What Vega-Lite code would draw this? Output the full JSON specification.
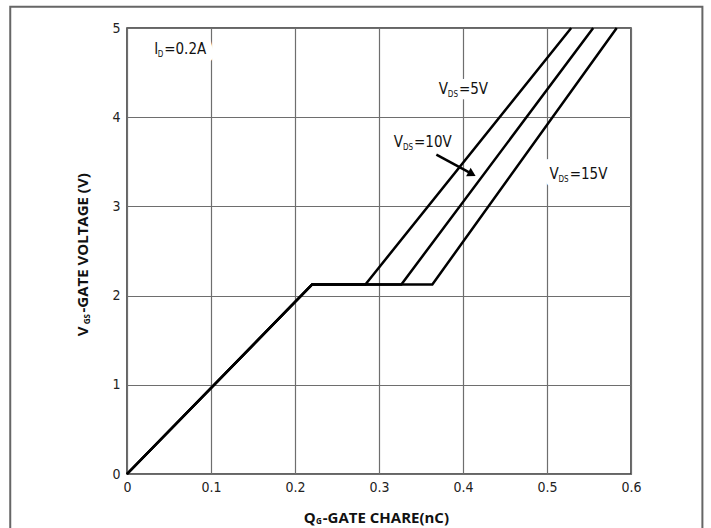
{
  "$schema": "https://vega.github.io/schema/vega-lite/v6.json",
  "width": 504,
  "height": 446,
  "autosize": {"type": "none"},
  "padding": {"left": 127, "top": 28, "right": 80, "bottom": 54},
  "background": "white",
  "config": {
    "view": {"stroke": "#333333", "strokeWidth": 1.5},
    "font": "DejaVu Sans Condensed, Liberation Sans Narrow, Liberation Sans, sans-serif",
    "axis": {
      "grid": true,
      "gridColor": "#6e6e6e",
      "gridWidth": 1.2,
      "gridOpacity": 1,
      "domain": false,
      "ticks": false,
      "labelFont": "DejaVu Sans Condensed, Liberation Sans Narrow, Liberation Sans, sans-serif",
      "labelFontSize": 14,
      "labelColor": "#222222",
      "labelFlush": false,
      "title": null
    }
  },
  "datasets": {
    "curves": [
      {"q": 0, "v": 0, "series": "5V"},
      {"q": 0.2204, "v": 2.125, "series": "5V"},
      {"q": 0.2838, "v": 2.125, "series": "5V"},
      {"q": 0.5288, "v": 5, "series": "5V"},
      {"q": 0, "v": 0, "series": "10V"},
      {"q": 0.2204, "v": 2.125, "series": "10V"},
      {"q": 0.3266, "v": 2.125, "series": "10V"},
      {"q": 0.555, "v": 5, "series": "10V"},
      {"q": 0, "v": 0, "series": "15V"},
      {"q": 0.2204, "v": 2.125, "series": "15V"},
      {"q": 0.3635, "v": 2.125, "series": "15V"},
      {"q": 0.583, "v": 5, "series": "15V"}
    ],
    "labels": [
      {"q": 0.0443, "v": 4.714, "lead": "I", "sub": "D", "main": "=0.2A", "kind": "one"},
      {"q": 0.3952, "v": 4.257, "lead": "V", "sub": "DS", "main": "=5V", "kind": "two"},
      {"q": 0.3417, "v": 3.666, "lead": "V", "sub": "DS", "main": "=10V", "kind": "two"},
      {"q": 0.527, "v": 3.311, "lead": "V", "sub": "DS", "main": "=15V", "kind": "two"}
    ],
    "arrow": [
      {"q": 0.3683, "v": 3.58, "q2": 0.409, "v2": 3.372, "hq": 0.4107, "hv": 3.364}
    ],
    "frame": [
      {"q": -0.139, "v": 5.238, "q2": 0.685, "v2": -0.69}
    ],
    "ytitle": [
      {"q": -0.0464, "v": 1.81, "lead": "V", "sub": "GS", "main": "-GATE VOLTAGE (V)"}
    ],
    "xtitle": [
      {"q": 0.233, "v": -0.5466, "lead": "Q", "sub": "G", "main": "-GATE CHARE(nC)"}
    ]
  },
  "layer": [
    {
      "data": {"name": "frame"},
      "mark": {"type": "rect", "fill": "white", "fillOpacity": 0, "stroke": "#666666", "strokeWidth": 2},
      "encoding": {
        "x": {"field": "q", "type": "quantitative"},
        "x2": {"field": "q2"},
        "y": {"field": "v", "type": "quantitative"},
        "y2": {"field": "v2"}
      }
    },
    {
      "data": {"name": "labels"},
      "mark": {"type": "text", "align": "left", "baseline": "alphabetic", "fontSize": 15, "fill": "white", "stroke": "white", "strokeWidth": 16, "strokeJoin": "round"},
      "encoding": {
        "x": {"field": "q", "type": "quantitative"},
        "y": {"field": "v", "type": "quantitative"},
        "text": {"field": "main"}
      }
    },
    {
      "data": {"name": "labels"},
      "transform": [{"filter": "datum.kind == 'two'"}],
      "mark": {"type": "text", "align": "right", "baseline": "alphabetic", "fontSize": 15, "dx": -11, "fill": "white", "stroke": "white", "strokeWidth": 16, "strokeJoin": "round"},
      "encoding": {
        "x": {"field": "q", "type": "quantitative"},
        "y": {"field": "v", "type": "quantitative"},
        "text": {"field": "lead"}
      }
    },
    {
      "data": {"name": "labels"},
      "transform": [{"filter": "datum.kind == 'one'"}],
      "mark": {"type": "text", "align": "right", "baseline": "alphabetic", "fontSize": 15, "dx": -6, "fill": "white", "stroke": "white", "strokeWidth": 16, "strokeJoin": "round"},
      "encoding": {
        "x": {"field": "q", "type": "quantitative"},
        "y": {"field": "v", "type": "quantitative"},
        "text": {"field": "lead"}
      }
    },
    {
      "data": {"name": "curves"},
      "mark": {"type": "line", "color": "black", "strokeWidth": 2.5, "strokeJoin": "miter"},
      "encoding": {
        "x": {
          "field": "q",
          "type": "quantitative",
          "scale": {"domain": [0, 0.6], "nice": false, "zero": false},
          "axis": {"values": [0, 0.1, 0.2, 0.3, 0.4, 0.5, 0.6], "format": "~g", "labelPadding": 6}
        },
        "y": {
          "field": "v",
          "type": "quantitative",
          "scale": {"domain": [0, 5], "nice": false, "zero": false},
          "axis": {"values": [0, 1, 2, 3, 4, 5], "format": "d", "labelPadding": 7}
        },
        "detail": {"field": "series"}
      }
    },
    {
      "data": {"name": "arrow"},
      "mark": {"type": "rule", "color": "black", "strokeWidth": 2.5},
      "encoding": {
        "x": {"field": "q", "type": "quantitative"},
        "y": {"field": "v", "type": "quantitative"},
        "x2": {"field": "q2"},
        "y2": {"field": "v2"}
      }
    },
    {
      "data": {"name": "arrow"},
      "mark": {"type": "point", "shape": "triangle-right", "filled": true, "color": "black", "opacity": 1, "size": 90, "angle": 28.5, "strokeWidth": 0},
      "encoding": {
        "x": {"field": "hq", "type": "quantitative"},
        "y": {"field": "hv", "type": "quantitative"}
      }
    },
    {
      "data": {"name": "labels"},
      "mark": {"type": "text", "align": "left", "baseline": "alphabetic", "fontSize": 15, "color": "#111111"},
      "encoding": {
        "x": {"field": "q", "type": "quantitative"},
        "y": {"field": "v", "type": "quantitative"},
        "text": {"field": "main"}
      }
    },
    {
      "data": {"name": "labels"},
      "mark": {"type": "text", "align": "right", "baseline": "alphabetic", "fontSize": 8, "dx": -1, "dy": 3, "color": "#111111"},
      "encoding": {
        "x": {"field": "q", "type": "quantitative"},
        "y": {"field": "v", "type": "quantitative"},
        "text": {"field": "sub"}
      }
    },
    {
      "data": {"name": "labels"},
      "transform": [{"filter": "datum.kind == 'two'"}],
      "mark": {"type": "text", "align": "right", "baseline": "alphabetic", "fontSize": 15, "dx": -11, "color": "#111111"},
      "encoding": {
        "x": {"field": "q", "type": "quantitative"},
        "y": {"field": "v", "type": "quantitative"},
        "text": {"field": "lead"}
      }
    },
    {
      "data": {"name": "labels"},
      "transform": [{"filter": "datum.kind == 'one'"}],
      "mark": {"type": "text", "align": "right", "baseline": "alphabetic", "fontSize": 15, "dx": -6, "color": "#111111"},
      "encoding": {
        "x": {"field": "q", "type": "quantitative"},
        "y": {"field": "v", "type": "quantitative"},
        "text": {"field": "lead"}
      }
    },
    {
      "data": {"name": "ytitle"},
      "mark": {"type": "text", "align": "left", "baseline": "alphabetic", "angle": 270, "font": "Open Sans", "fontWeight": "bold", "fontSize": 15, "color": "#111111"},
      "encoding": {
        "x": {"field": "q", "type": "quantitative"},
        "y": {"field": "v", "type": "quantitative"},
        "text": {"field": "main"}
      }
    },
    {
      "data": {"name": "ytitle"},
      "mark": {"type": "text", "align": "right", "baseline": "alphabetic", "angle": 270, "dx": -1.5, "dy": 1.5, "font": "Open Sans", "fontWeight": "bold", "fontSize": 8, "color": "#111111"},
      "encoding": {
        "x": {"field": "q", "type": "quantitative"},
        "y": {"field": "v", "type": "quantitative"},
        "text": {"field": "sub"}
      }
    },
    {
      "data": {"name": "ytitle"},
      "mark": {"type": "text", "align": "right", "baseline": "alphabetic", "angle": 270, "dx": -14, "font": "Open Sans", "fontWeight": "bold", "fontSize": 15, "color": "#111111"},
      "encoding": {
        "x": {"field": "q", "type": "quantitative"},
        "y": {"field": "v", "type": "quantitative"},
        "text": {"field": "lead"}
      }
    },
    {
      "data": {"name": "xtitle"},
      "mark": {"type": "text", "align": "left", "baseline": "alphabetic", "font": "Open Sans", "fontWeight": "bold", "fontSize": 15, "color": "#111111"},
      "encoding": {
        "x": {"field": "q", "type": "quantitative"},
        "y": {"field": "v", "type": "quantitative"},
        "text": {"field": "main"}
      }
    },
    {
      "data": {"name": "xtitle"},
      "mark": {"type": "text", "align": "right", "baseline": "alphabetic", "dx": -1, "dy": 1.5, "font": "Open Sans", "fontWeight": "bold", "fontSize": 8, "color": "#111111"},
      "encoding": {
        "x": {"field": "q", "type": "quantitative"},
        "y": {"field": "v", "type": "quantitative"},
        "text": {"field": "sub"}
      }
    },
    {
      "data": {"name": "xtitle"},
      "mark": {"type": "text", "align": "right", "baseline": "alphabetic", "dx": -7, "font": "Open Sans", "fontWeight": "bold", "fontSize": 15, "color": "#111111"},
      "encoding": {
        "x": {"field": "q", "type": "quantitative"},
        "y": {"field": "v", "type": "quantitative"},
        "text": {"field": "lead"}
      }
    }
  ]
}
